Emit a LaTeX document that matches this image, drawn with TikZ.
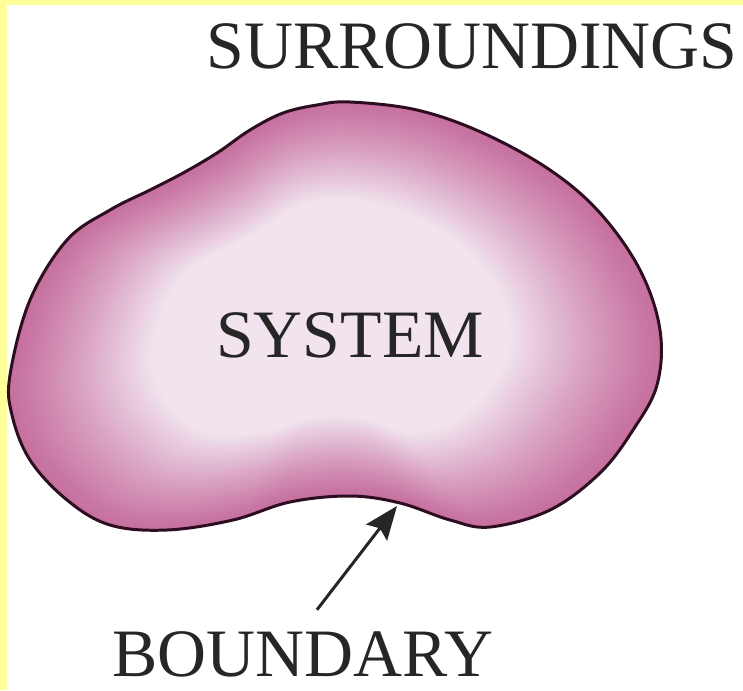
\documentclass[tikz,border=0pt]{standalone}
\usepackage{fontspec}
\setmainfont{Liberation Serif}
\usepackage{xcolor}
\definecolor{paleyellow}{rgb}{1.0, 1.0, 0.6}
\definecolor{pinkrim}{RGB}{198, 112, 160}
\definecolor{pinkcore}{RGB}{241, 228, 238}
\definecolor{rimline}{RGB}{45, 14, 32}
\usepackage{tikz}
\usetikzlibrary{arrows.meta,positioning}
\tikzset{
  >={Stealth[length=19pt,width=15pt,inset=3pt]},
  label/.style={anchor=base,inner sep=0pt,font=\fontsize{38.6}{40}\selectfont,text=black!85},
  outline/.style={draw=rimline,line width=1.7pt},
  pointer/.style={->,line width=1.7pt,draw=black!85}
}
% outline of the system, in pixel units
\def\blobpath{plot[smooth cycle,tension=0.6] coordinates {
  (10,375) (30,300) (67,240) (110,210) (150,190) (183,173) (217,153)
  (250,130) (283,113) (317,105) (350,102) (417,110) (483,133) (550,170)
  (600,213) (640,270) (660,330) (657,385) (633,430) (600,473) (550,510)
  (490,527) (450,520) (400,503) (350,496) (290,502) (233,520) (167,530)
  (110,525) (67,500) (30,460) (12,415)}}

\begin{document}
\begin{tikzpicture}[x=0.02cm,y=-0.02cm]
  % Frame
  \fill[paleyellow] (0,0) rectangle (743,690);
  \fill[white] (7,5) rectangle (743,690);
  \useasboundingbox (0,0) rectangle (743,690);

  % System body, shaded from rim to core
  \foreach \k [evaluate=\k as \s using {1-0.45*\k/40},
               evaluate=\k as \c using {100*(\k/40)^1.15}] in {0,...,40}
    \fill[pinkcore!\c!pinkrim,scale around={\s:(325,318)}] \blobpath;
  \draw[outline] \blobpath;

  % Labels
  \node[label] (surr) at (472,68) {SURROUNDINGS};
  \node[label] (sys) at (350,357) {SYSTEM};
  \node[label] (bnd) at (303,676) {BOUNDARY};

  % Arrow
  \coordinate (tip) at (397,506);
  \draw[pointer] ([xshift=14*0.02cm,yshift=21*0.02cm]bnd.north) -- (tip);
\end{tikzpicture}
\end{document}
